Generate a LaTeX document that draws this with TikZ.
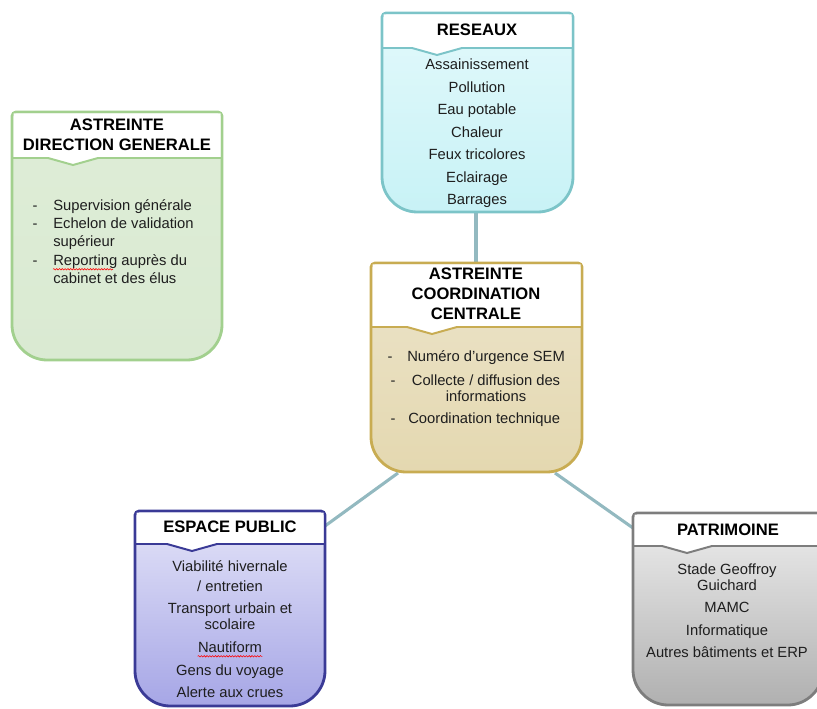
\documentclass[tikz,border=0pt]{standalone}
\usepackage{fontspec}
\setmainfont{Liberation Sans}
\usetikzlibrary{decorations.pathmorphing}

\definecolor{dgline}{RGB}{162,208,142}
\definecolor{dgtop}{RGB}{222,237,215}
\definecolor{dgbot}{RGB}{218,234,210}
\definecolor{resline}{RGB}{124,196,200}
\definecolor{restop}{RGB}{226,249,251}
\definecolor{resbot}{RGB}{200,242,246}
\definecolor{coline}{RGB}{200,172,82}
\definecolor{cotop}{RGB}{236,228,202}
\definecolor{cobot}{RGB}{228,216,176}
\definecolor{epline}{RGB}{58,58,150}
\definecolor{eptop}{RGB}{228,228,248}
\definecolor{epbot}{RGB}{166,166,230}
\definecolor{patline}{RGB}{125,125,125}
\definecolor{pattop}{RGB}{238,238,238}
\definecolor{patbot}{RGB}{176,176,176}
\definecolor{linkcol}{RGB}{147,185,192}
\definecolor{ink}{RGB}{30,30,30}

\tikzset{
  title/.style={font=\fontsize{11.8}{14.2}\selectfont\bfseries, text=black, inner sep=0pt, align=center},
  lines/.style={font=\fontsize{10.5}{11.4}\selectfont, text=ink, inner sep=0pt, align=center},
  item/.style={lines, text height=9.2pt, text depth=1.2pt},
  link/.style={draw=linkcol, line width=2.2pt},
  spell/.style={draw=red, line width=0.4pt, decorate,
    decoration={snake, amplitude=0.5pt, segment length=2pt}}
}

% #1 x1, #2 y1, #3 x2, #4 y2, #5 header bottom, #6 notch x, #7 colour prefix
\newcommand\panel[7]{%
  \path[draw=#7line, line width=2pt, top color=#7top, bottom color=#7bot]
    (#1,{#2+4}) -- (#1,{#4-35}) .. controls (#1,{#4-16}) and ({#1+16},#4) .. ({#1+35},#4)
    -- ({#3-35},#4) .. controls ({#3-16},#4) and (#3,{#4-16}) .. (#3,{#4-35})
    -- (#3,{#2+4}) .. controls (#3,{#2+2}) and ({#3-2},#2) .. ({#3-4},#2)
    -- ({#1+4},#2) .. controls ({#1+2},#2) and (#1,{#2+2}) .. (#1,{#2+4}) -- cycle;
  \fill[white] ({#1+1.5},{#2+1.5}) -- ({#3-1.5},{#2+1.5}) -- ({#3-1.5},#5)
    -- ({#6+25},#5) -- (#6,{#5+7}) -- ({#6-25},#5) -- ({#1+1.5},#5) -- cycle;
  \draw[#7line, line width=1.4pt] ({#1+1},#5) -- ({#6-25},#5) -- (#6,{#5+7})
    -- ({#6+25},#5) -- ({#3-1},#5);
}

\begin{document}
\begin{tikzpicture}[x=0.025cm, y=-0.025cm]
  \useasboundingbox (0,0) rectangle (817,709);

  % connectors
  \coordinate (res-s) at (476,212);
  \coordinate (co-n) at (476,263);
  \coordinate (co-sw) at (398,473);
  \coordinate (ep-ne) at (325,526);
  \coordinate (co-se) at (555,473);
  \coordinate (pat-nw) at (633,528);
  \draw[link] (res-s) -- (co-n);
  \draw[link] (co-sw) -- (ep-ne);
  \draw[link] (co-se) -- (pat-nw);

  % boxes
  \panel{12}{112}{222}{360}{158}{73}{dg}
  \panel{382}{13}{573}{212}{48}{437}{res}
  \panel{371}{263}{582}{472}{327}{432}{co}
  \panel{135}{511}{325}{706}{544}{192}{ep}
  \panel{633}{513}{823}{705}{546}{687}{pat}

  % direction generale
  \node[title] (dg-t) at (117,135) {ASTREINTE\\DIRECTION GENERALE};
  \foreach \y in {205, 223, 260}
    \node[item] at (35,\y) {-};
  \node[item, anchor=west] (dg-1) at (53,205) {Supervision générale};
  \node[item, anchor=west] (dg-2) at (53,223) {Echelon de validation};
  \node[item, anchor=west] (dg-2b) at (53,241) {supérieur};
  \node[item, anchor=west] (dg-3) at (53,260) {Reporting auprès du};
  \node[item, anchor=west] (dg-3b) at (53,278) {cabinet et des élus};
  \draw[spell] ([yshift=-1.2pt]dg-3.south west) -- ++(60,0);

  % reseaux
  \node[title] (res-t) at (477,30) {RESEAUX};
  \foreach \t [count=\i from 0] in {Assainissement, Pollution, Eau potable,
      Chaleur, Feux tricolores, Eclairage, Barrages}
    \node[item] (res-\i) at (477,64+22.5*\i) {\t};

  % coordination centrale
  \node[title] (co-t) at (476,294) {ASTREINTE\\COORDINATION\\CENTRALE};
  \node[item] at (390,356) {-};
  \node[item, anchor=west] (co-1) at (407,356) {Numéro d'urgence SEM};
  \node[item] at (393,380) {-};
  \node[item] (co-2) at (486,380) {Collecte / diffusion des};
  \node[item] (co-2b) at (486,396) {informations};
  \node[item] at (393,418) {-};
  \node[item, anchor=west] (co-3) at (408,418) {Coordination technique};

  % espace public
  \node[title] (ep-t) at (230,527) {ESPACE PUBLIC};
  \node[item] (ep-1) at (230,566) {Viabilité hivernale};
  \node[item] (ep-2) at (230,586) {/ entretien};
  \node[lines] (ep-3) at (230,616) {Transport urbain et\\scolaire};
  \node[item] (ep-4) at (230,647) {Nautiform};
  \node[item] (ep-5) at (230,670) {Gens du voyage};
  \node[item] (ep-6) at (230,692) {Alerte aux crues};
  \draw[spell] ([yshift=-1.2pt]ep-4.south west) -- ([yshift=-1.2pt]ep-4.south east);

  % patrimoine
  \node[title] (pat-t) at (728,530) {PATRIMOINE};
  \node[lines] (pat-1) at (727,577) {Stade Geoffroy\\Guichard};
  \node[item] (pat-2) at (727,607) {MAMC};
  \node[item] (pat-3) at (727,630) {Informatique};
  \node[item] (pat-4) at (727,652) {Autres bâtiments et ERP};
\end{tikzpicture}
\end{document}
